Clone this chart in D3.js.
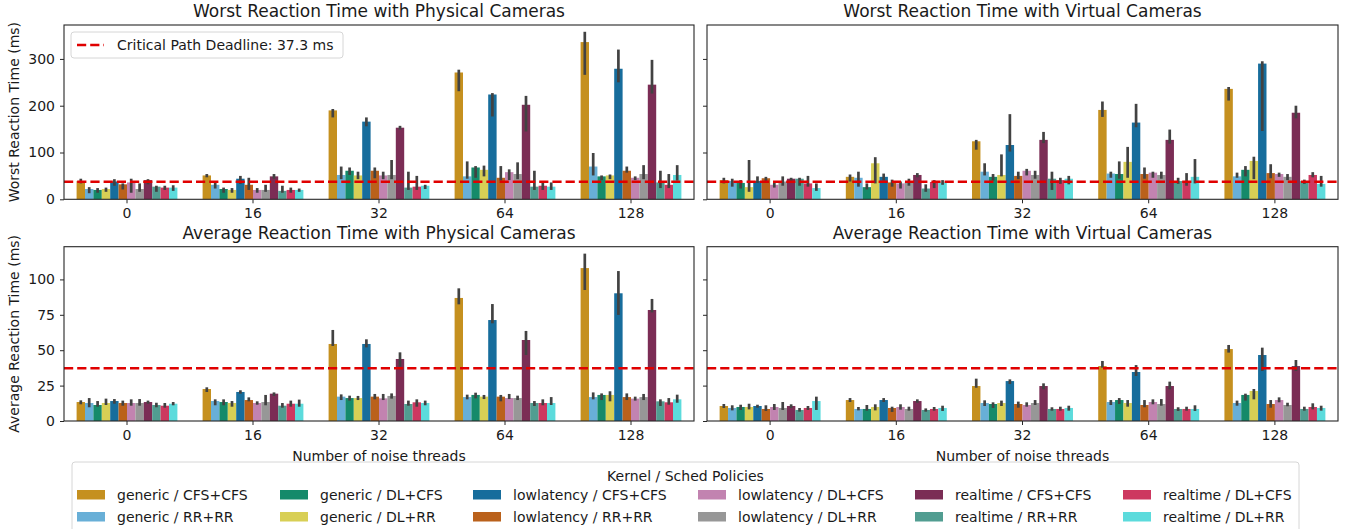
<!DOCTYPE html>
<html>
<head>
<meta charset="utf-8">
<script src="https://cdn.jsdelivr.net/npm/d3@7"></script>
<style>
  body { margin: 0; background: #fff; }
  svg text { font-family: "DejaVu Sans", sans-serif; fill: #1a1a1a; }
</style>
</head>
<body>
<svg id="chart" width="1354" height="529"></svg>
<script>
const groups = ['0', '16', '32', '64', '128'];

const policies = [
  'generic / CFS+CFS', 'generic / RR+RR', 'generic / DL+CFS', 'generic / DL+RR',
  'lowlatency / CFS+CFS', 'lowlatency / RR+RR', 'lowlatency / DL+CFS', 'lowlatency / DL+RR',
  'realtime / CFS+CFS', 'realtime / RR+RR', 'realtime / DL+CFS', 'realtime / DL+RR'
];

const policyColors = [
  '#c5901f', '#68afd7', '#158a6a', '#d8cf55',
  '#176d9c', '#ba611b', '#c283b0', '#979797',
  '#7b2d55', '#519d91', '#cd3860', '#5cdbdc'
];

const deadline = 37.3;

// worst reaction time, physical cameras (rows = noise threads)
const worstPhysMean = [
  [39, 22, 20, 22, 38, 32, 36, 22, 41, 27, 25, 25],
  [51, 31, 22, 20, 44, 31, 20, 20, 49, 18, 20, 20],
  [190, 52, 61, 51, 166, 61, 51, 52, 153, 25, 27, 29],
  [271, 49, 68, 63, 224, 46, 58, 54, 202, 27, 29, 27],
  [336, 70, 49, 51, 279, 61, 46, 54, 245, 36, 31, 52]
];
const worstPhysLow = [
  [34, 13, 14, 16, 29, 21, 14, 16, 32, 16, 20, 18],
  [47, 23, 14, 14, 33, 20, 14, 16, 44, 14, 14, 16],
  [175, 43, 52, 43, 156, 45, 43, 43, 149, 20, 20, 22],
  [231, 44, 46, 49, 177, 40, 41, 43, 145, 20, 20, 20],
  [266, 51, 41, 43, 250, 57, 41, 43, 226, 24, 24, 40]
];
const worstPhysHigh = [
  [44, 26, 24, 25, 43, 34, 44, 34, 43, 29, 29, 30],
  [54, 36, 25, 24, 50, 46, 24, 31, 54, 29, 25, 23],
  [193, 70, 68, 59, 175, 68, 59, 84, 157, 59, 50, 31],
  [277, 81, 71, 72, 227, 71, 64, 79, 221, 61, 36, 36],
  [358, 99, 51, 53, 320, 70, 49, 73, 298, 61, 54, 73]
];

// worst reaction time, virtual cameras
const worstVirtMean = [
  [41, 39, 35, 26, 39, 45, 31, 38, 44, 44, 34, 24],
  [48, 46, 26, 77, 48, 36, 34, 36, 52, 23, 37, 36],
  [124, 59, 48, 52, 116, 50, 61, 52, 127, 44, 41, 44],
  [191, 55, 54, 80, 164, 54, 57, 52, 127, 39, 39, 48],
  [236, 49, 63, 82, 290, 56, 54, 48, 185, 39, 52, 33]
];
const worstVirtLow = [
  [34, 27, 23, 16, 35, 36, 25, 29, 36, 29, 27, 18],
  [38, 27, 21, 34, 40, 27, 23, 29, 47, 16, 24, 31],
  [106, 51, 40, 49, 102, 43, 51, 44, 120, 20, 33, 32],
  [176, 46, 44, 46, 154, 44, 46, 44, 119, 33, 29, 34],
  [211, 46, 49, 43, 146, 45, 48, 41, 173, 33, 47, 27]
];
const worstVirtHigh = [
  [46, 44, 41, 84, 49, 48, 36, 49, 46, 46, 50, 34],
  [53, 59, 34, 90, 55, 42, 38, 44, 56, 32, 41, 41],
  [127, 77, 54, 96, 182, 59, 65, 61, 144, 59, 46, 50],
  [209, 59, 81, 112, 204, 68, 59, 59, 149, 46, 56, 86],
  [240, 57, 71, 91, 295, 75, 57, 54, 200, 42, 58, 50]
];

// average reaction time, physical cameras
const avgPhysMean = [
  [13.4, 12.7, 11.3, 12.7, 14.1, 12.7, 12.7, 12.7, 13.4, 11.3, 10.8, 12.2],
  [22.6, 14.1, 13.4, 12.7, 20.5, 14.8, 12.7, 13.4, 19.3, 10.8, 12.2, 12.2],
  [54.4, 17.2, 16.2, 16.2, 54.4, 17.2, 16.0, 17.7, 43.8, 12.0, 13.2, 12.7],
  [86.9, 16.9, 18.4, 17.2, 71.3, 17.2, 16.2, 16.2, 57.2, 12.7, 12.7, 12.7],
  [108, 16.9, 18.4, 18.4, 90.2, 16.9, 15.8, 16.9, 78.4, 13.9, 13.2, 15.3]
];
const avgPhysLow = [
  [11.8, 9.7, 10.1, 11.3, 12.2, 10.8, 10.8, 10.8, 12.2, 9.7, 9.4, 11.1],
  [20.5, 11.1, 11.1, 10.1, 19.3, 13.9, 11.5, 11.1, 17.7, 9.4, 10.1, 10.1],
  [53.0, 14.8, 14.4, 14.8, 52.0, 15.3, 14.8, 15.8, 38.4, 10.8, 10.1, 11.1],
  [82.4, 15.3, 16.0, 15.5, 69.0, 13.9, 15.5, 14.8, 46.6, 10.6, 11.1, 11.3],
  [92.5, 15.3, 14.8, 13.9, 74.9, 14.8, 14.4, 14.8, 76.7, 10.6, 11.5, 12.9]
];
const avgPhysHigh = [
  [14.6, 16.2, 14.1, 15.8, 15.5, 14.4, 15.3, 15.5, 14.4, 12.9, 12.7, 13.4],
  [23.8, 15.3, 15.3, 14.1, 21.7, 16.7, 13.9, 18.4, 20.2, 12.7, 14.4, 15.1],
  [64.3, 18.8, 17.9, 17.7, 57.7, 19.1, 19.1, 19.5, 48.5, 14.4, 15.3, 14.4],
  [93.7, 18.6, 20.0, 18.4, 82.6, 18.4, 19.1, 17.9, 63.6, 14.1, 15.3, 16.9],
  [118.2, 20.2, 19.5, 21.0, 105.9, 19.5, 17.2, 19.1, 86.2, 15.3, 16.2, 18.6]
];

// average reaction time, virtual cameras
const avgVirtMean = [
  [10.6, 9.2, 9.9, 9.9, 10.6, 8.5, 9.9, 9.2, 10.6, 7.8, 9.2, 14.1],
  [14.8, 8.5, 8.5, 9.9, 14.8, 9.2, 9.9, 8.5, 14.1, 7.8, 8.5, 9.2],
  [24.7, 12.7, 12.0, 12.7, 28.2, 12.0, 11.3, 12.7, 24.7, 8.5, 8.5, 9.2],
  [38.8, 13.4, 14.8, 12.7, 34.6, 11.3, 13.4, 12.0, 24.7, 8.5, 8.5, 8.5],
  [50.8, 12.7, 18.4, 21.2, 46.6, 12.0, 14.8, 11.3, 38.8, 8.5, 9.9, 9.2]
];
const avgVirtLow = [
  [9.2, 7.5, 7.8, 8.2, 9.4, 7.1, 7.8, 7.8, 9.2, 6.6, 7.8, 7.8],
  [13.4, 7.5, 7.3, 7.5, 13.4, 6.4, 8.0, 7.3, 12.9, 6.6, 7.3, 7.1],
  [23.5, 10.6, 9.2, 10.6, 26.1, 9.4, 10.1, 11.3, 22.4, 7.3, 7.3, 7.3],
  [37.7, 11.3, 12.0, 10.1, 31.8, 9.7, 11.8, 10.8, 22.4, 7.1, 7.3, 7.1],
  [48.3, 10.8, 14.4, 15.3, 35.3, 9.4, 13.2, 10.4, 35.3, 7.3, 8.2, 7.3]
];
const avgVirtHigh = [
  [12.0, 11.1, 11.5, 12.2, 11.5, 11.1, 12.0, 13.4, 11.8, 9.2, 10.6, 17.2],
  [16.2, 9.9, 11.3, 11.8, 16.2, 10.1, 11.8, 10.1, 15.3, 8.9, 9.9, 10.8],
  [29.9, 14.6, 13.2, 14.4, 29.4, 13.7, 13.2, 14.8, 26.6, 9.7, 10.1, 10.8],
  [42.4, 14.8, 16.2, 14.8, 39.5, 14.8, 15.3, 15.5, 27.8, 9.7, 10.1, 11.1],
  [53.7, 14.4, 19.3, 22.6, 51.8, 14.8, 16.7, 12.9, 43.1, 10.1, 12.5, 10.8]
];

const topTicks = [0, 100, 200, 300];
const bottomTicks = [0, 25, 50, 75, 100];

const svg = d3.select('#chart');

const panels = [
  { title: 'Worst Reaction Time with Physical Cameras', mean: worstPhysMean, low: worstPhysLow, high: worstPhysHigh,
    x0: 64, x1: 694, y0: 25, y1: 199.3, yMax: 372.5, ticks: topTicks, yLabel: 'Worst Reaction Time (ms)', legend: true },
  { title: 'Worst Reaction Time with Virtual Cameras', mean: worstVirtMean, low: worstVirtLow, high: worstVirtHigh,
    x0: 707, x1: 1338, y0: 25, y1: 199.3, yMax: 372.5, ticks: topTicks },
  { title: 'Average Reaction Time with Physical Cameras', mean: avgPhysMean, low: avgPhysLow, high: avgPhysHigh,
    x0: 64, x1: 694, y0: 246.7, y1: 421, yMax: 123.1, ticks: bottomTicks, yLabel: 'Average Reaction Time (ms)', xLabel: true },
  { title: 'Average Reaction Time with Virtual Cameras', mean: avgVirtMean, low: avgVirtLow, high: avgVirtHigh,
    x0: 707, x1: 1338, y0: 246.7, y1: 421, yMax: 123.1, ticks: bottomTicks, xLabel: true }
];

panels.forEach(p => drawPanel(p));
drawLegend();

function drawPanel(p) {
  const g = svg.append('g');

  const x = d3.scaleBand()
    .domain(groups)
    .range([p.x0, p.x1])
    .paddingInner(0.2)
    .paddingOuter(0.1);

  const xHue = d3.scaleBand()
    .domain(policies)
    .range([0, x.bandwidth()]);

  const y = d3.scaleLinear().domain([0, p.yMax]).range([p.y1, p.y0]);

  const rows = [];
  groups.forEach((grp, gi) => {
    policies.forEach((pol, pi) => {
      rows.push({ grp, pol, color: policyColors[pi], v: p.mean[gi][pi], lo: p.low[gi][pi], hi: p.high[gi][pi] });
    });
  });

  g.selectAll('rect.bar')
    .data(rows)
    .enter().append('rect')
    .attr('class', 'bar')
    .attr('x', d => x(d.grp) + xHue(d.pol))
    .attr('width', xHue.bandwidth())
    .attr('y', d => y(d.v))
    .attr('height', d => y(0) - y(d.v))
    .style('fill', d => d.color);

  g.selectAll('line.err')
    .data(rows)
    .enter().append('line')
    .attr('class', 'err')
    .attr('x1', d => x(d.grp) + xHue(d.pol) + xHue.bandwidth() / 2)
    .attr('x2', d => x(d.grp) + xHue(d.pol) + xHue.bandwidth() / 2)
    .attr('y1', d => y(d.lo))
    .attr('y2', d => y(d.hi))
    .style('stroke', '#424242')
    .style('stroke-width', 2.7);

  // deadline line
  g.append('line')
    .attr('x1', p.x0).attr('x2', p.x1)
    .attr('y1', y(deadline)).attr('y2', y(deadline))
    .style('stroke', '#e00000')
    .style('stroke-width', 2.5)
    .style('stroke-dasharray', '9.2,4');

  // frame
  g.append('rect')
    .attr('x', p.x0).attr('y', p.y0)
    .attr('width', p.x1 - p.x0).attr('height', p.y1 - p.y0)
    .style('fill', 'none')
    .style('stroke', '#262626')
    .style('stroke-width', 1.1);

  const xAxis = g.append('g')
    .attr('transform', `translate(0,${p.y1})`)
    .call(d3.axisBottom(x).tickSize(4).tickSizeOuter(0).tickPadding(5));
  xAxis.select('.domain').remove();
  xAxis.selectAll('line').style('stroke', '#262626');
  xAxis.selectAll('text').style('font-size', '14px').style('font-family', 'DejaVu Sans');

  const yAxis = g.append('g')
    .attr('transform', `translate(${p.x0},0)`)
    .call(d3.axisLeft(y).tickValues(p.ticks).tickSize(4).tickSizeOuter(0).tickPadding(5));
  yAxis.select('.domain').remove();
  yAxis.selectAll('line').style('stroke', '#262626');
  yAxis.selectAll('text').style('font-size', '14px').style('font-family', 'DejaVu Sans');
  if (!p.yLabel) yAxis.selectAll('text').remove();

  g.append('text')
    .attr('x', (p.x0 + p.x1) / 2)
    .attr('y', p.y0 - 8)
    .attr('text-anchor', 'middle')
    .style('font-size', '17px')
    .text(p.title);

  if (p.yLabel) {
    g.append('text')
      .attr('transform', `translate(19,${(p.y0 + p.y1) / 2}) rotate(-90)`)
      .attr('text-anchor', 'middle')
      .style('font-size', '14px')
      .text(p.yLabel);
  }

  if (p.xLabel) {
    g.append('text')
      .attr('x', (p.x0 + p.x1) / 2)
      .attr('y', p.y1 + 40)
      .attr('text-anchor', 'middle')
      .style('font-size', '14px')
      .text('Number of noise threads');
  }

  if (p.legend) {
    const lg = g.append('g');
    lg.append('rect')
      .attr('x', 71).attr('y', 32).attr('width', 272).attr('height', 26)
      .attr('rx', 3)
      .style('fill', '#fff').style('fill-opacity', 0.85)
      .style('stroke', '#d6d6d6');
    lg.append('line')
      .attr('x1', 77).attr('x2', 104).attr('y1', 45).attr('y2', 45)
      .style('stroke', '#e00000').style('stroke-width', 2.5)
      .style('stroke-dasharray', '9.2,4');
    lg.append('text')
      .attr('x', 117).attr('y', 50)
      .style('font-size', '14px')
      .text(`Critical Path Deadline: ${deadline} ms`);
  }
}

function drawLegend() {
  const lg = svg.append('g');
  lg.append('rect')
    .attr('x', 72).attr('y', 462).attr('width', 1227).attr('height', 80)
    .attr('rx', 3)
    .style('fill', '#fff')
    .style('stroke', '#d6d6d6');
  lg.append('text')
    .attr('x', 685.5).attr('y', 480.5)
    .attr('text-anchor', 'middle')
    .style('font-size', '14px')
    .text('Kernel / Sched Policies');

  const colX = [77, 280, 473, 698, 915, 1123];
  const rowY = [495, 517];
  policies.forEach((pol, i) => {
    const c = Math.floor(i / 2);
    const r = i % 2;
    lg.append('rect')
      .attr('x', colX[c]).attr('y', rowY[r] - 5)
      .attr('width', 28).attr('height', 9.5)
      .style('fill', policyColors[i]);
    lg.append('text')
      .attr('x', colX[c] + 40).attr('y', rowY[r] + 5)
      .style('font-size', '14px')
      .text(pol);
  });
}
</script>
</body>
</html>
